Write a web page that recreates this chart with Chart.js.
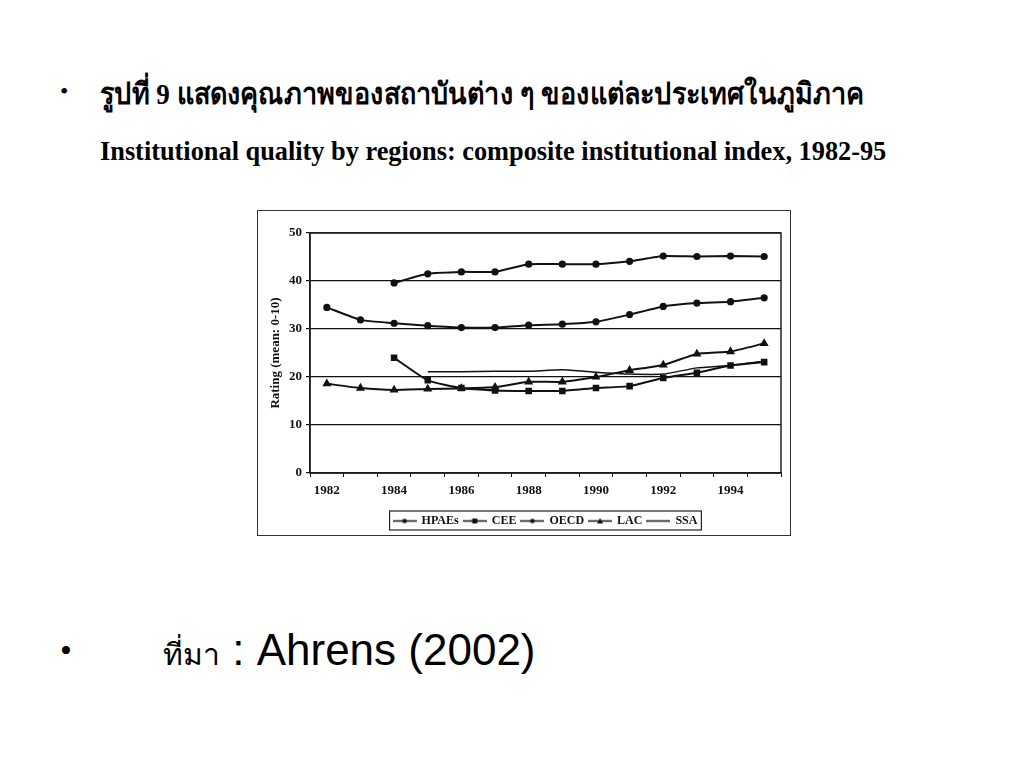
<!DOCTYPE html>
<html>
<head>
<meta charset="utf-8">
<script src="https://cdn.jsdelivr.net/npm/chart.js@4.4.0/dist/chart.umd.min.js"></script>
<style>
  body { margin: 0; background: #fff; width: 1024px; height: 768px; overflow: hidden; font-family: "Liberation Serif", serif; }
  .bullet { position: absolute; left: 60px; font-family: "Liberation Serif", serif; color: #000; }
  #title { position: absolute; left: 100px; top: 70px; font-size: 30px; font-weight: bold; color: #000; white-space: nowrap; transform: scaleX(0.9); transform-origin: left top; }
  #subtitle { position: absolute; left: 100px; top: 135px; font-size: 28px; font-weight: bold; color: #000; white-space: nowrap; transform: scaleX(0.94); transform-origin: left top; }
  #frame { position: absolute; left: 257px; top: 210px; width: 534px; height: 326px; box-sizing: border-box; border: 1.5px solid #333; }
  #frame canvas { display: block; }
  #source { position: absolute; left: 163px; top: 625px; font-size: 44px; color: #000; white-space: nowrap; font-family: "Liberation Sans", Arial, sans-serif; }
  #source .th { font-family: "Liberation Serif", serif; font-size: 30px; }
</style>
</head>
<body>
<div class="bullet" style="top:78px;font-size:24px;">•</div>
<div id="title">รูปที่ 9 แสดงคุณภาพของสถาบันต่าง ๆ ของแต่ละประเทศในภูมิภาค</div>
<div id="subtitle">Institutional quality by regions: composite institutional index, 1982-95</div>

<div id="frame"><canvas id="chart" width="531" height="323"></canvas></div>

<div class="bullet" style="top:632px;font-size:34px;">•</div>
<div id="source"><span class="th">ที่มา</span> : Ahrens (2002)</div>

<script>
const years = ['1982', '1983', '1984', '1985', '1986', '1987', '1988', '1989', '1990', '1991', '1992', '1993', '1994', '1995'];
const hpaes = [34.5, 31.9, 31.2, 30.7, 30.3, 30.3, 30.8, 31.0, 31.5, 33.0, 34.7, 35.4, 35.7, 36.5];
const cee   = [null, null, 24.0, 19.3, 17.7, 17.2, 17.1, 17.1, 17.7, 18.1, 19.8, 20.9, 22.4, 23.1];
const oecd  = [null, null, 39.6, 41.5, 41.9, 41.9, 43.5, 43.5, 43.5, 44.1, 45.2, 45.1, 45.2, 45.1];
const lac   = [18.6, 17.7, 17.3, 17.5, 17.6, 17.9, 19.0, 19.0, 20.0, 21.4, 22.5, 24.8, 25.3, 27.0];
const ssa   = [null, null, null, 21.1, 21.1, 21.2, 21.2, 21.5, 21.0, 20.6, 20.6, 21.9, 22.4, 23.3];
const yTicks = [0, 10, 20, 30, 40, 50];

const ink = '#111';
const axisFont = { family: '"Liberation Serif", serif', size: 13, weight: 'bold' };
const legendFont = { family: '"Liberation Serif", serif', size: 12, weight: 'bold' };

// small legend glyph: line with marker in the middle
function legendGlyph(style) {
    const c = document.createElement('canvas');
    c.width = 24; c.height = 9;
    const g = c.getContext('2d');
    g.strokeStyle = ink; g.fillStyle = ink; g.lineWidth = 1.5;
    g.beginPath(); g.moveTo(0, 4.5); g.lineTo(24, 4.5); g.stroke();
    if (style === 'rect') g.fillRect(9.5, 2, 5, 5);
    else if (style === 'triangle') { g.beginPath(); g.moveTo(12, 1.5); g.lineTo(15, 7); g.lineTo(9, 7); g.fill(); }
    else if (style === 'circle') { g.beginPath(); g.arc(12, 4.5, 2.3, 0, Math.PI * 2); g.fill(); }
    return c;
}

function series(label, data, style, width) {
    return {
        label: label,
        data: data,
        borderColor: ink,
        backgroundColor: ink,
        borderWidth: width,
        pointStyle: style,
        pointRadius: style ? (style === 'circle' ? 2.6 : 3.2) : 0,
        pointHoverRadius: 0,
        tension: 0.15,
        legendGlyph: legendGlyph(style)
    };
}

const plotBorder = {
    id: 'plotBorder',
    afterUpdate(chart) {
        // centre the legend under the plot and drop it a little
        const lg = chart.legend, a = chart.chartArea;
        const dx = (a.left + a.right) / 2 - (lg.left + lg.right) / 2;
        const dy = 5;
        lg.left += dx; lg.right += dx; lg.top += dy; lg.bottom += dy;
        lg.legendHitBoxes.forEach(h => { h.left += dx; h.top += dy; });
    },
    afterDatasetsDraw(chart) {
        const a = chart.chartArea, ctx = chart.ctx;
        ctx.save();
        ctx.strokeStyle = '#222'; ctx.lineWidth = 1.5;
        ctx.strokeRect(a.left, a.top, a.right - a.left, a.bottom - a.top);
        ctx.restore();
    },
    afterDraw(chart) {
        const boxes = chart.legend.legendHitBoxes;
        if (!boxes || !boxes.length) return;
        const l = Math.min(...boxes.map(b => b.left)) - 4;
        const r = Math.max(...boxes.map(b => b.left + b.width)) + 4;
        const t = boxes[0].top - 4;
        const ctx = chart.ctx;
        ctx.save();
        ctx.strokeStyle = '#222'; ctx.lineWidth = 1.2;
        ctx.strokeRect(l, t, r - l, boxes[0].height + 7);
        ctx.restore();
    }
};

new Chart(document.getElementById('chart'), {
    type: 'line',
    data: {
        labels: years,
        datasets: [
            series('HPAEs', hpaes, 'circle', 2),
            series('CEE', cee, 'rect', 2),
            series('OECD', oecd, 'circle', 2),
            series('LAC', lac, 'triangle', 2),
            series('SSA', ssa, false, 1.5)
        ]
    },
    options: {
        responsive: false,
        animation: false,
        layout: { padding: { top: 22, right: 8, left: 0, bottom: 2 } },
        plugins: {
            tooltip: { enabled: false },
            legend: {
                position: 'bottom',
                labels: {
                    color: ink,
                    font: legendFont,
                    usePointStyle: true,
                    pointStyleWidth: 22,
                    padding: 5,
                    generateLabels: (chart) => chart.data.datasets.map((ds, i) => ({
                        text: ds.label,
                        pointStyle: ds.legendGlyph,
                        fillStyle: ink,
                        strokeStyle: ink,
                        lineWidth: 0,
                        fontColor: ink,
                        datasetIndex: i
                    }))
                }
            }
        },
        scales: {
            x: {
                offset: true,
                grid: { offset: true, drawOnChartArea: false, drawTicks: true, tickLength: 4, color: ink },
                border: { color: ink, width: 1.5 },
                ticks: {
                    color: ink, font: axisFont, maxRotation: 0, autoSkip: false, padding: 6,
                    callback: function (val, index) { return index % 2 === 0 ? this.getLabelForValue(val) : ''; }
                },
                afterFit: (scale) => { scale.height = 32; }
            },
            y: {
                min: 0, max: 50,
                afterBuildTicks: (scale) => { scale.ticks = yTicks.map(v => ({ value: v })); },
                grid: { color: ink, lineWidth: 1.2, tickLength: 4 },
                border: { color: ink, width: 1.5 },
                ticks: { color: ink, font: axisFont, padding: 4 },
                title: { display: true, text: 'Rating (mean: 0-10)', color: ink, font: axisFont, padding: { top: 10, bottom: 4 } },
                afterFit: (scale) => { scale.width = 52; }
            }
        }
    },
    plugins: [plotBorder]
});
</script>
</body>
</html>
